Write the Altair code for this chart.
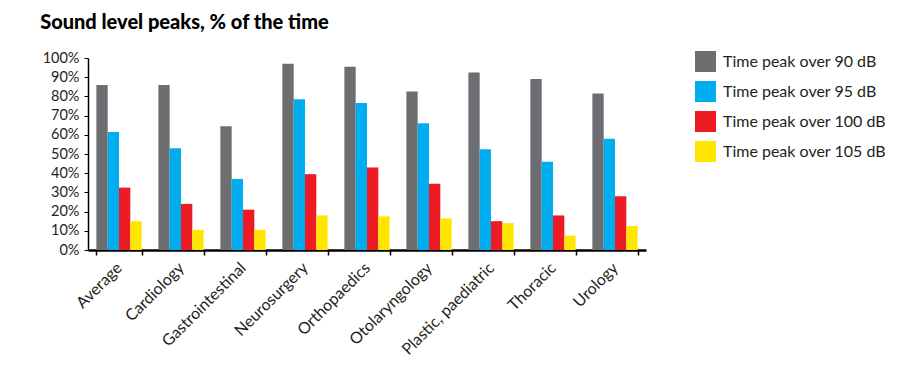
import altair as alt
import pandas as pd

categories = ["Average", "Cardiology", "Gastrointestinal", "Neurosurgery", "Orthopaedics",
              "Otolaryngology", "Plastic, paediatric", "Thoracic", "Urology"]
series = ["Time peak over 90 dB", "Time peak over 95 dB", "Time peak over 100 dB", "Time peak over 105 dB"]
colors = ["#6D6E71", "#00AEEF", "#ED1C24", "#FFE600"]

over90 = [86, 86, 64.5, 97, 95.5, 82.5, 92.5, 89, 81.5]
over95 = [61.5, 53, 37, 78.5, 76.5, 66, 52.5, 46, 58]
over100 = [32.5, 24, 21, 39.5, 43, 34.5, 15, 18, 28]
over105 = [15, 10.5, 10.5, 18, 17.5, 16.5, 14, 7.5, 12.5]

rows = []
for vals, s in zip([over90, over95, over100, over105], series):
    for c, v in zip(categories, vals):
        rows.append({"category": c, "series": s, "value": v})
df = pd.DataFrame(rows)

FONT = "Lato"

chart = alt.Chart(df).mark_bar().encode(
    x=alt.X("category:N", sort=categories, title=None,
            scale=alt.Scale(paddingInner=0.27, paddingOuter=0.135),
            axis=alt.Axis(labelAngle=-45, labelAlign="right", labelBaseline="middle",
                          labelFontSize=16, labelColor="#231F20", labelFont=FONT,
                          tickBand="extent", tickSize=5, tickColor="#000", tickWidth=1.5,
                          domainColor="#000", domainWidth=2.5, labelPadding=10, grid=False)),
    xOffset=alt.XOffset("series:N", sort=series, scale=alt.Scale(paddingInner=0, paddingOuter=0)),
    y=alt.Y("value:Q", title=None, scale=alt.Scale(domain=[0, 100], nice=False),
            axis=alt.Axis(values=list(range(0, 101, 10)), labelExpr="datum.value + '%'",
                          labelFontSize=14.5, labelColor="#231F20", labelFont=FONT,
                          tickSize=4, tickColor="#000", domainColor="#000", domainWidth=1.5,
                          labelPadding=5, grid=False)),
    color=alt.Color("series:N", sort=series, title=None,
                    scale=alt.Scale(domain=series, range=colors),
                    legend=alt.Legend(orient="none", legendX=607, legendY=-7,
                                      symbolType="square", symbolSize=441, symbolStrokeWidth=0,
                                      labelFontSize=16, labelFont=FONT, labelColor="#231F20",
                                      labelLimit=400, rowPadding=9, labelOffset=7)),
).properties(
    width=558, height=192,
    title=alt.TitleParams("Sound level peaks, % of the time", anchor="start", font=FONT,
                          fontSize=20, fontWeight=900, color="#000", dx=-2, offset=17),
    autosize=alt.AutoSizeParams(type="none"),
    padding={"left": 80, "top": 50, "right": 255, "bottom": 124},
).configure_view(stroke=None)

chart.save("out.html", embed_options={"renderer": "svg", "actions": False})
